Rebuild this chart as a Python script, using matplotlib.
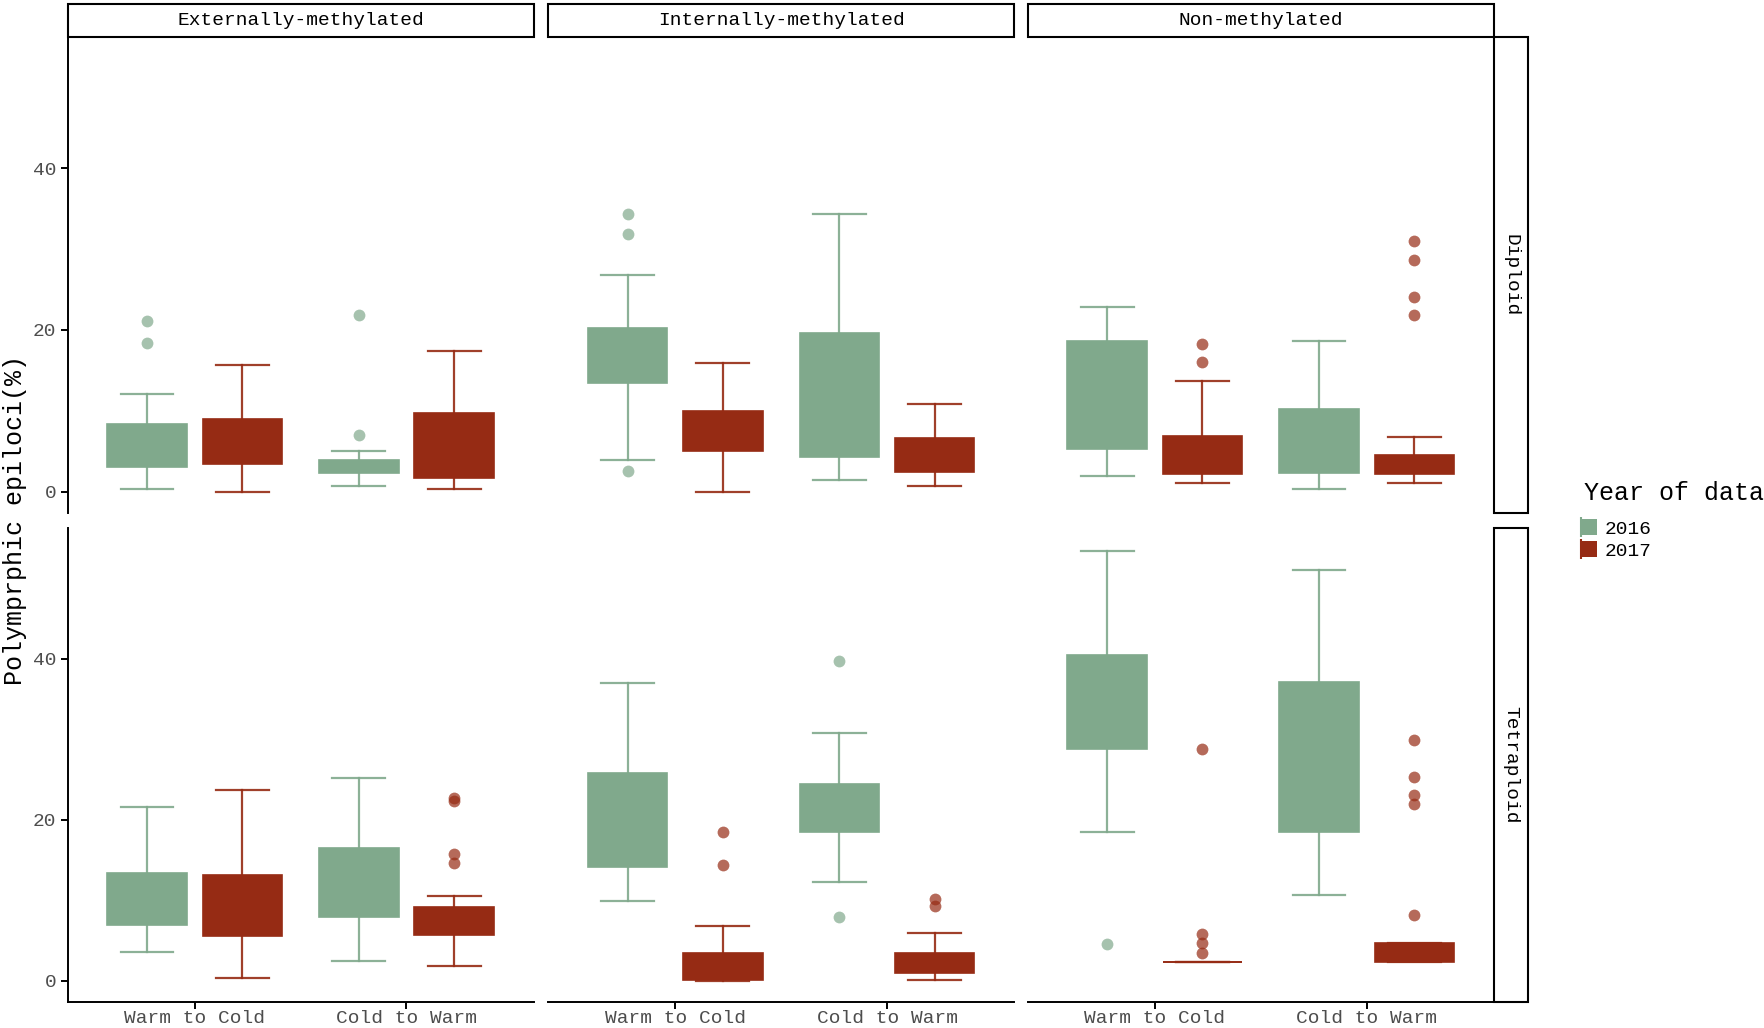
import matplotlib
matplotlib.use("Agg")
import matplotlib.pyplot as plt
from matplotlib.patches import Rectangle
from matplotlib.lines import Line2D
from matplotlib.legend_handler import HandlerTuple

plt.rcParams['font.family'] = ['Liberation Mono', 'DejaVu Sans']

methylation = ["Externally-methylated", "Internally-methylated", "Non-methylated"]
ploidy = ["Diploid", "Tetraploid"]
directions = ["Warm to Cold", "Cold to Warm"]
years = ["2016", "2017"]
year_colors = ["#80A98C", "#962B14"]

# shape [ploidy][methylation][box], boxes ordered:
# Warm to Cold 2016, Warm to Cold 2017, Cold to Warm 2016, Cold to Warm 2017
whisker_low = [
    [[0.35, 0.0, 0.7, 0.3], [3.9, 0.0, 1.5, 0.75], [1.95, 1.05, 0.35, 1.05]],
    [[3.5, 0.35, 2.4, 1.75], [9.85, 0.0, 12.2, 0.05], [18.4, 2.35, 10.6, 2.3]],
]
q1 = [
    [[3.1, 3.45, 2.3, 1.7], [13.4, 5.0, 4.3, 2.4], [5.25, 2.2, 2.3, 2.2]],
    [[6.9, 5.55, 7.9, 5.6], [14.1, 0.05, 18.5, 0.9], [28.7, 2.35, 18.4, 2.3]],
]
median = [
    [[5.0, 6.0, 3.0, 4.5], [17.0, 7.5, 11.0, 4.0], [11.0, 4.0, 5.0, 3.0]],
    [[10.0, 9.0, 12.0, 7.0], [20.0, 1.5, 21.5, 2.0], [34.0, 2.35, 27.0, 3.0]],
]
q3 = [
    [[8.4, 9.0, 3.9, 9.7], [20.3, 10.0, 19.6, 6.7], [18.7, 6.85, 10.2, 4.55]],
    [[13.4, 13.1, 16.5, 9.1], [25.8, 3.4, 24.4, 3.4], [40.4, 2.35, 37.1, 4.6]],
]
whisker_high = [
    [[12.1, 15.7, 5.0, 17.4], [26.8, 15.9, 34.3, 10.9], [22.8, 13.7, 18.7, 6.8]],
    [[21.6, 23.7, 25.1, 10.5], [37.0, 6.8, 30.7, 5.9], [53.4, 2.35, 51.0, 4.6]],
]
outliers = [
    [[[21.1, 18.4], [], [21.9, 7.0], []],
     [[34.3, 31.9, 2.6], [], [], []],
     [[], [18.3, 16.0], [], [31.0, 28.7, 24.1, 21.8]]],
    [[[], [], [], [22.7, 22.3, 15.75, 14.6]],
     [[], [18.5, 14.3], [39.75, 7.9], [10.1, 9.3]],
     [[4.5], [28.7, 5.75, 4.6, 3.45], [], [29.9, 25.3, 23.0, 21.9, 8.1]]],
]

fig = plt.figure(figsize=(17.65, 10.28), dpi=100)

col_left = [0.0383, 0.3106, 0.5823]
col_width = 0.264
row_bottom = [0.5005, 0.0252]
row_height = [0.4634, 0.4611]

axes = []
for r in range(2):
    row = []
    for c in range(3):
        ax = fig.add_axes([col_left[c], row_bottom[r], col_width, row_height[r]])
        row.append(ax)
    axes.append(row)

for r in range(2):
    for c in range(3):
        ax = axes[r][c]
        for b in range(4):
            d = b // 2
            yr = b % 2
            color = year_colors[yr]
            stat = dict(whislo=whisker_low[r][c][b], q1=q1[r][c][b], med=median[r][c][b],
                        q3=q3[r][c][b], whishi=whisker_high[r][c][b],
                        fliers=outliers[r][c][b])
            pos = d + 1 + (yr - 0.5) * 0.45
            ax.bxp([stat], positions=[pos], widths=0.375, capwidths=0.25,
                   patch_artist=True, manage_ticks=False,
                   boxprops=dict(facecolor=color, edgecolor=color, lw=1.2),
                   medianprops=dict(color=color, lw=1.2),
                   whiskerprops=dict(color=color, lw=1.6, alpha=0.9),
                   capprops=dict(color=color, lw=1.6, alpha=0.9),
                   flierprops=dict(marker='o', markerfacecolor=color,
                                   markeredgecolor='none', markersize=8.5, alpha=0.7))
        ax.set_xlim(0.4, 2.6)
        ax.set_ylim(-2.68, 56.2)
        ax.set_xticks([1, 2])
        ax.set_xticklabels(directions)
        ax.set_yticks([0, 20, 40])
        for s in ['top', 'right']:
            ax.spines[s].set_visible(False)
        for s in ['left', 'bottom']:
            ax.spines[s].set_linewidth(1.4)
        ax.tick_params(length=5, width=1.4, colors='black', labelcolor='#4d4d4d',
                       labelsize=14)
        ax.tick_params(axis='x', pad=1)
        ax.tick_params(axis='y', pad=3)
        if c > 0:
            ax.spines['left'].set_visible(False)
            ax.tick_params(left=False, labelleft=False)
        if r == 0:
            ax.spines['bottom'].set_visible(False)
            ax.tick_params(bottom=False, labelbottom=False)

# top strips
strip_bottom = row_bottom[0] + row_height[0]
strip_h = 0.0325
for c, name in enumerate(methylation):
    fig.patches.append(Rectangle((col_left[c], strip_bottom), col_width, strip_h,
                                 transform=fig.transFigure, facecolor='white',
                                 edgecolor='black', lw=1.5))
    fig.text(col_left[c] + col_width / 2, strip_bottom + strip_h / 2, name,
             ha='center', va='center', fontsize=14, color='black')

# right strips
strip_left = col_left[2] + col_width
strip_w = 0.0195
for r, name in enumerate(ploidy):
    fig.patches.append(Rectangle((strip_left, row_bottom[r]), strip_w, row_height[r],
                                 transform=fig.transFigure, facecolor='white',
                                 edgecolor='black', lw=1.5))
    fig.text(strip_left + strip_w / 2, row_bottom[r] + row_height[r] / 2, name,
             ha='center', va='center', rotation=-90, fontsize=14, color='black')

fig.text(0.0085, 0.494, "Polymprphic epiloci(%)", rotation=90, ha='center',
         va='center', fontsize=18)

# legend
fig.text(0.8973, 0.5203, "Year of data", ha='left', va='center', fontsize=18)
handles = []
for yr in range(2):
    handles.append((Line2D([0], [0], color=year_colors[yr], marker='|', ms=15,
                           linestyle='none', mew=1.5),
                    Line2D([0], [0], color=year_colors[yr], marker='s', ms=11,
                           linestyle='none', mew=0)))
leg = fig.legend(handles, years, loc='upper left',
                 bbox_to_anchor=(0.8875, 0.5035), frameon=False, fontsize=14,
                 handlelength=0.9, handleheight=0.8,
                 handletextpad=0.55, labelspacing=0.2, borderpad=0,
                 handler_map={tuple: HandlerTuple(ndivide=None)})

fig.savefig("out.png", dpi=100)
